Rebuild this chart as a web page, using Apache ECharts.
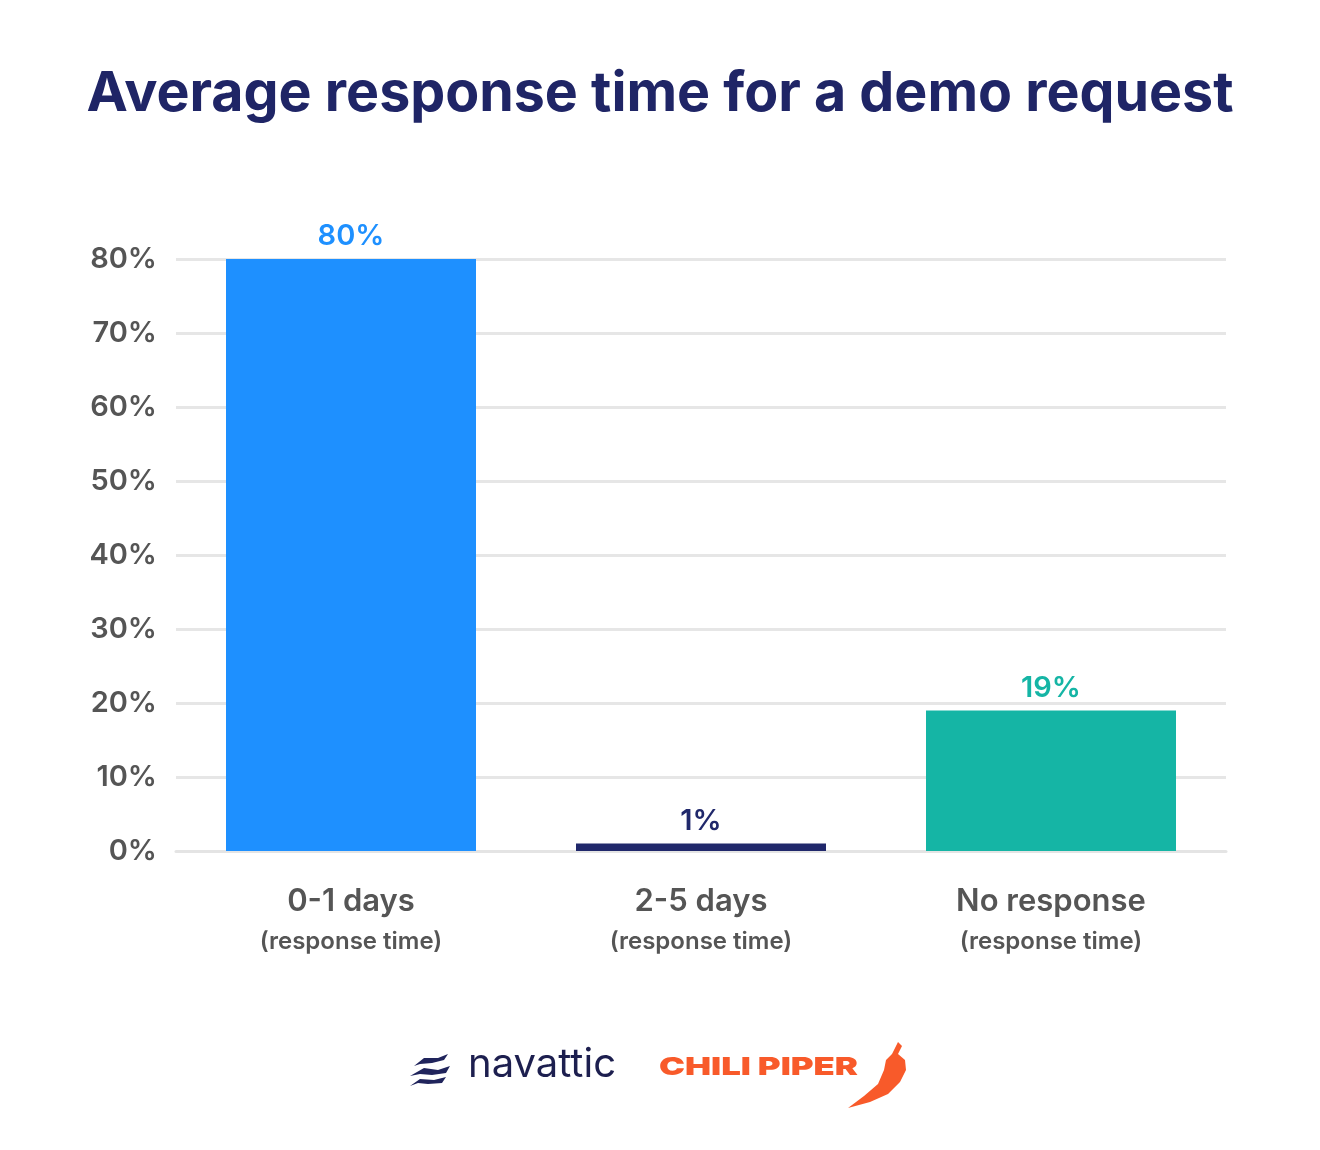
<!DOCTYPE html>
<html><head><meta charset="utf-8">
<script src="https://cdn.jsdelivr.net/npm/echarts@6/dist/echarts.min.js"></script>
<style>html,body{margin:0;padding:0;background:#fff}#c{width:1320px;height:1150px}</style>
</head><body><div id="c"></div>
<script>
const categories = ['0-1 days', '2-5 days', 'No response'];
const subLabel = '(response time)';
const values = [80, 1, 19];
const valueLabels = ['80%', '1%', '19%'];
const barColors = ['#1e90ff', '#20286b', '#15b5a5'];
const yTicks = [0, 10, 20, 30, 40, 50, 60, 70, 80];

const chart = echarts.init(document.getElementById('c'));
const F = 'Inter, "Noto Sans", sans-serif';
chart.setOption({
  backgroundColor: '#ffffff',
  animation: false,
  title: {
    text: 'Average response time for a demo request',
    left: 'center', top: 61,
    textStyle: { fontFamily: F, fontSize: 55.5, fontWeight: 700, color: '#1f2566' }
  },
  grid: { left: 176, right: 94, top: 259, bottom: 299 },
  xAxis: {
    type: 'category',
    data: categories,
    axisLine: { show: true, lineStyle: { color: '#e4e4e4', width: 3 } },
    axisTick: { show: false },
    axisLabel: {
      margin: 30,
      formatter: v => '{a|' + v + '}\n{b|' + subLabel + '}',
      rich: {
        a: { fontFamily: F, fontSize: 31, fontWeight: 600, color: '#555555', lineHeight: 42 },
        b: { fontFamily: F, fontSize: 24, fontWeight: 600, color: '#555555', lineHeight: 38 }
      }
    }
  },
  yAxis: {
    type: 'value',
    min: yTicks[0], max: yTicks[yTicks.length - 1], interval: 10,
    axisLine: { show: false },
    axisTick: { show: false },
    splitLine: { lineStyle: { color: '#e6e6e6', width: 3 } },
    axisLabel: {
      margin: 19,
      formatter: v => v + '%',
      fontFamily: F, fontSize: 29, fontWeight: 600, color: '#555555'
    }
  },
  series: [{
    type: 'bar',
    data: values.map((v, i) => ({ value: v, itemStyle: { color: barColors[i] },
      label: { color: barColors[i] } })),
    barWidth: 250,
    label: {
      show: true, position: 'top', distance: 8,
      formatter: p => valueLabels[p.dataIndex],
      fontFamily: F, fontSize: 29, fontWeight: 600
    }
  }],
  graphic: [
    { type: 'polygon', shape: { points: [[414,1066],[424,1058],[438,1058],[448,1054],[444,1060],[432,1063],[420,1064]] }, style: { fill: '#20245c' } },
    { type: 'polygon', shape: { points: [[410,1076],[424,1068],[438,1070],[450,1066],[446,1073],[432,1075],[420,1074]] }, style: { fill: '#20245c' } },
    { type: 'polygon', shape: { points: [[410,1086],[420,1079],[434,1080],[446,1077],[442,1083],[428,1084],[418,1083]] }, style: { fill: '#20245c' } },
    { type: 'text', left: 468, top: 1045, style: { text: 'navattic', fontFamily: F, fontSize: 40, fontWeight: 400, fill: '#1d1f4f' } },
    { type: 'text', x: 659, y: 1055, scaleX: 1.39, style: { text: 'CHILI PIPER', fontFamily: F, fontSize: 25, fontWeight: 900, fill: '#f85a2a' } },
    { type: 'polygon', shape: { points: [[898,1042],[902,1046],[898,1054],[905,1060],[906,1070],[900,1082],[888,1094],[870,1102],[848,1108],[864,1096],[878,1084],[884,1070],[886,1060],[892,1054]] }, style: { fill: '#f85a2a' } }
  ]
});
</script></body></html>
